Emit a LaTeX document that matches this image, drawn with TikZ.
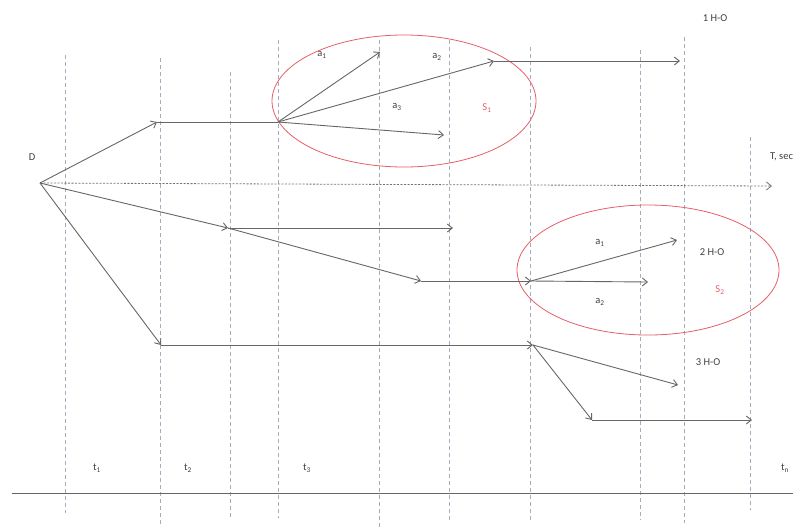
\documentclass[tikz,border=0pt]{standalone}
\usepackage{fontspec}
\setmainfont{Carlito}
\usetikzlibrary{arrows.meta}
\definecolor{ell}{RGB}{228,95,105}
\definecolor{gridc}{RGB}{165,172,190}
\begin{document}
\begin{tikzpicture}[x=1pt,y=-1pt,
  conn/.style={draw=black!60, line width=0.9pt},
  arr/.style={conn, -{Straight Barb[length=5pt,width=8pt]}},
  gridline/.style={draw=gridc, dash pattern=on 4pt off 3pt, line width=0.6pt},
  axisline/.style={draw=black!60, line width=1pt},
  timeaxis/.style={draw=black!55, dash pattern=on 2pt off 1.5pt, line width=0.8pt, -{Straight Barb[length=5pt,width=8pt]}},
  lbl/.style={font=\fontsize{10.5}{12}\selectfont, text=black!75, inner sep=0pt},
  slbl/.style={lbl, text=ell},
  region/.style={draw=ell, line width=0.8pt}]
\useasboundingbox (0,0) rectangle (809,531);
% vertical dashed grid
\foreach \x/\a/\b in {65/55/513, 160/58/527, 230/72/520, 278/40/518, 379/40/530, 449/40/520, 530/47/523, 640/50/520, 684/37/523, 750/137/510}
  \draw[gridline] (\x,\a) -- (\x,\b);
% bottom axis
\coordinate (ax0) at (12,493);
\coordinate (ax1) at (793,493);
\draw[axisline] (ax0) -- (ax1);
\node[lbl] (t1) at (97,468) {t\textsubscript{1}};
\node[lbl] (t2) at (188,468) {t\textsubscript{2}};
\node[lbl] (t3) at (307,468) {t\textsubscript{3}};
\node[lbl] (tn) at (785,468) {t\textsubscript{n}};
% ellipses
\draw[region] (404,101) ellipse [x radius=132, y radius=66];
\draw[region] (648,270) ellipse [x radius=131, y radius=65];
% points
\coordinate (D) at (40,183);
\coordinate (Tend) at (772,186);
\coordinate (P1) at (157,122);
\coordinate (A1) at (278,122);
\coordinate (a1e) at (380,52);
\coordinate (a2e) at (494,61);
\coordinate (a3e) at (444,135);
\coordinate (h1) at (680,61);
\coordinate (P2) at (228,228);
\coordinate (P2e) at (453,228);
\coordinate (P3) at (421,281);
\coordinate (A2) at (531,281);
\coordinate (b1e) at (677,240);
\coordinate (b2e) at (648,282);
\coordinate (P4) at (161,345);
\coordinate (A3) at (533,345);
\coordinate (c1e) at (678,385);
\coordinate (P5) at (592,420);
\coordinate (P5e) at (752,420);
% labels
\node[lbl] (Dl) at (32,157) {D};
\node[lbl, anchor=west] (Tl) at (770,157) {T, sec};
\node[lbl] (h1l) at (715,18) {1 H-O};
\node[lbl] (h2l) at (712,252) {2 H-O};
\node[lbl] (h3l) at (708,362) {3 H-O};
\node[lbl] (la1) at (322,55) {a\textsubscript{1}};
\node[lbl] (la2) at (437,57) {a\textsubscript{2}};
\node[lbl] (la3) at (397,107) {a\textsubscript{3}};
\node[slbl] (S1) at (487,108) {S\textsubscript{1}};
\node[lbl] (lb1) at (600,243) {a\textsubscript{1}};
\node[lbl] (lb2) at (600,302) {a\textsubscript{2}};
\node[slbl] (S2) at (720,290) {S\textsubscript{2}};
% time axis
\draw[timeaxis] (D) -- (Tend);
% branch 1
\draw[arr] (D) -- (P1);
\draw[conn] (P1) -- (A1);
\draw[arr] (A1) -- (a1e);
\draw[arr] (A1) -- (a2e);
\draw[arr] (A1) -- (a3e);
\draw[arr] (a2e) -- (h1);
% branch 2
\draw[arr] (D) -- (P2);
\draw[arr] (P2) -- (P2e);
\draw[arr] (P2) -- (P3);
\draw[arr] (P3) -- (A2);
\draw[arr] (A2) -- (b1e);
\draw[arr] (A2) -- (b2e);
% branch 3
\draw[arr] (D) -- (P4);
\draw[arr] (P4) -- (A3);
\draw[arr] (A3) -- (c1e);
\draw[arr] (A3) -- (P5);
\draw[arr] (P5) -- (P5e);
\end{tikzpicture}
\end{document}
